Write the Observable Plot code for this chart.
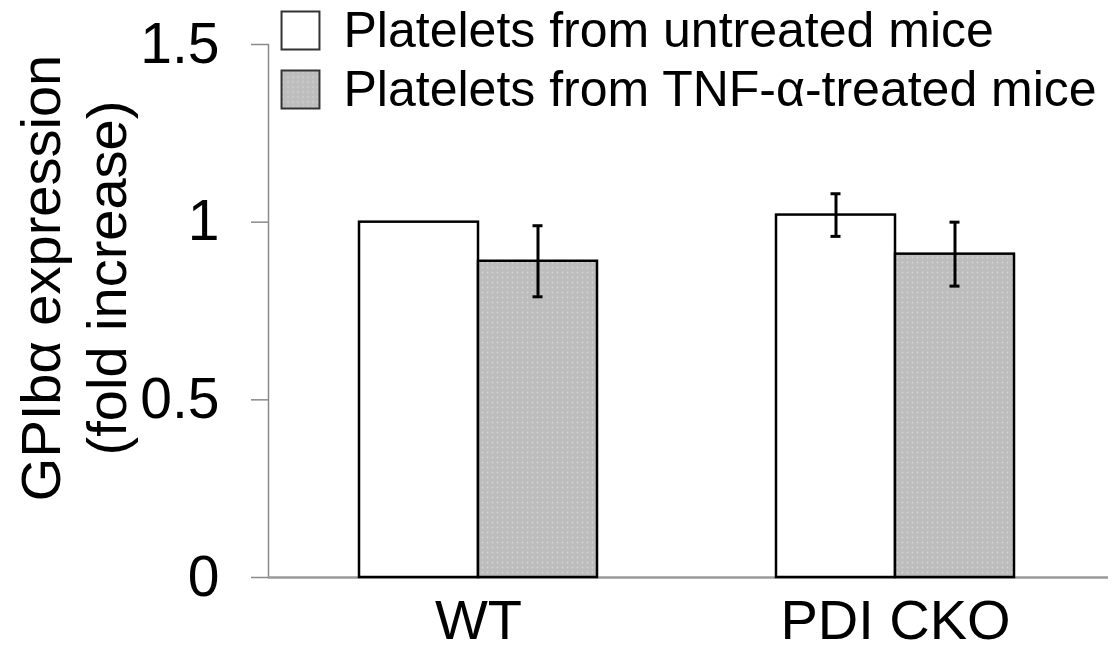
<!DOCTYPE html>
<html>
<head>
<meta charset="utf-8">
<script src="https://cdn.jsdelivr.net/npm/d3@7"></script>
<script src="https://cdn.jsdelivr.net/npm/@observablehq/plot@0.6"></script>
<style>
  html, body { margin: 0; padding: 0; background: white; }
  #chart svg { display: block; }
</style>
</head>
<body>
<div id="chart"></div>
<script>
// ---- data ----
const groups = ["WT", "PDI CKO"];
const series = ["Platelets from untreated mice", "Platelets from TNF-α-treated mice"];
const untreatedMean = [1.00, 1.02];
const untreatedErr = [0, 0.06];
const treatedMean = [0.89, 0.91];
const treatedErr = [0.10, 0.09];
const yTicks = [0, 0.5, 1, 1.5];
const yTickLabels = ["0", "0.5", "1", "1.5"];
const yLabel = "GPIbα expression\n(fold increase)";
const seriesFills = ["white", "#bfbfbf"];

const rows = groups.flatMap((g, i) => [
  {group: g, s: 0, mean: untreatedMean[i], err: untreatedErr[i]},
  {group: g, s: 1, mean: treatedMean[i], err: treatedErr[i]}
]);

const half = 119;           // half of the band (one bar)
const capHalf = 5;
const barMarks = [0, 1].flatMap(s => {
  const d = rows.filter(r => r.s === s);
  const e = d.filter(r => r.err > 0);
  const c = s ? half + half / 2 : half / 2;
  return [
    Plot.barY(d, {
      x: "group", y: "mean", fill: seriesFills[s], stroke: "black", strokeWidth: 2.5,
      insetLeft: s ? half : 0, insetRight: s ? 0 : half
    }),
    Plot.ruleX(e, {
      x: "group", y1: r => r.mean - r.err, y2: r => r.mean + r.err,
      dx: s ? half / 2 : -half / 2, stroke: "black", strokeWidth: 3
    }),
    Plot.tickY(e, {
      x: "group", y: r => r.mean + r.err, stroke: "black", strokeWidth: 3,
      insetLeft: c - capHalf, insetRight: 2 * half - c - capHalf
    }),
    Plot.tickY(e, {
      x: "group", y: r => r.mean - r.err, stroke: "black", strokeWidth: 3,
      insetLeft: c - capHalf, insetRight: 2 * half - c - capHalf
    })
  ];
});

const legendMarks = series.flatMap((name, i) => [
  Plot.dot([name], {
    x: null, y: null, frameAnchor: "top-left", dx: 32, dy: -14 + 59 * i,
    symbol: "square", r: 21.4, fill: seriesFills[i], stroke: "#333", strokeWidth: 2
  }),
  Plot.text([name], {
    text: d => d, frameAnchor: "top-left", dx: 75, dy: -14 + 59 * i,
    textAnchor: "start", lineAnchor: "middle", fontSize: 50, fill: "black"
  })
]);

const chart = Plot.plot({
  width: 1114,
  height: 650,
  marginLeft: 268,
  marginRight: 6,
  marginTop: 44,
  marginBottom: 73,
  style: {fontFamily: "'Liberation Sans', Arial, sans-serif", background: "white", color: "black"},
  x: {domain: groups, range: [268, 1108], paddingInner: 0.4293, paddingOuter: 0.2218, align: 0.49, axis: null},
  y: {domain: [0, 1.5], axis: null},
  marks: [
    Plot.frame({anchor: "left", stroke: "#8a8a8a", strokeWidth: 1.5}),
    Plot.axisY({
      ticks: yTicks, tickFormat: d => yTickLabels[yTicks.indexOf(d)],
      tickSize: 17, tickPadding: 32, fontSize: 57, stroke: "#8a8a8a", strokeWidth: 1.5,
      fill: "black", label: null
    }),
    Plot.axisX({tickSize: 0, tickPadding: 22, fontSize: 56, fill: "black", label: null}),
    Plot.ruleY([0], {stroke: "#9a9a9a", strokeWidth: 2.5}),
    ...barMarks,
    Plot.text([yLabel], {
      text: d => d, frameAnchor: "left", rotate: -90, fontSize: 56, lineHeight: 1.18,
      dx: -197, dy: -33, textAnchor: "middle", lineAnchor: "middle", fill: "black"
    }),
    ...legendMarks
  ]
});

// stippled grey fill like the original
const ns = "http://www.w3.org/2000/svg";
const defs = document.createElementNS(ns, "defs");
defs.innerHTML = '<pattern id="dots" width="5" height="5" patternUnits="userSpaceOnUse">' +
  '<rect width="5" height="5" fill="#bdbdbd"/><circle cx="2.5" cy="2.5" r="0.9" fill="#d4d4d4"/></pattern>';
chart.insertBefore(defs, chart.firstChild);
chart.querySelectorAll('[fill="#bfbfbf"]').forEach(el => el.setAttribute("fill", "url(#dots)"));

document.getElementById("chart").appendChild(chart);
</script>
</body>
</html>
